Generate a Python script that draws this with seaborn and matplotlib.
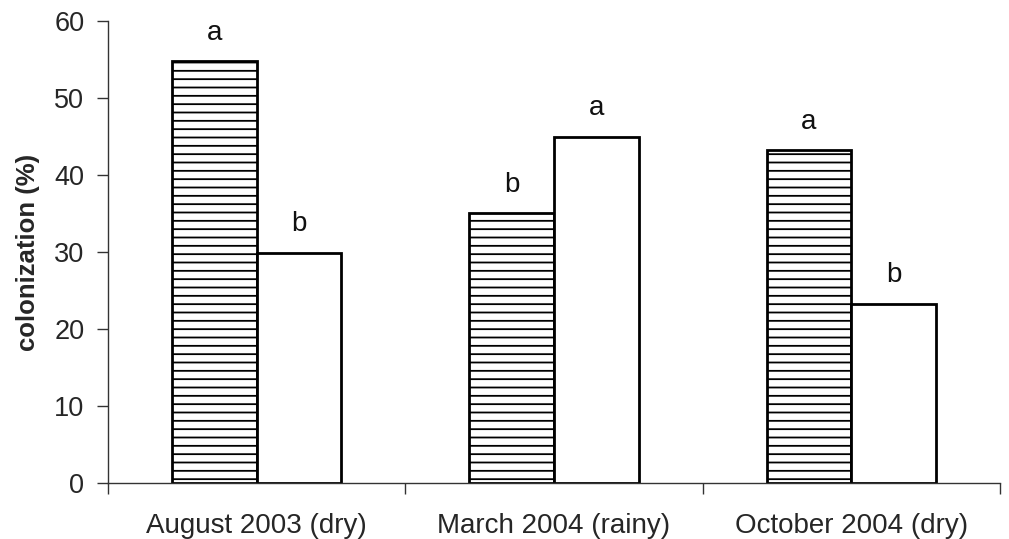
import matplotlib
matplotlib.use("Agg")
import matplotlib.pyplot as plt
import pandas as pd
import seaborn as sns

# data
periods = ['August 2003 (dry)', 'March 2004 (rainy)', 'October 2004 (dry)']
series = ['hatched', 'open']
hatched_vals = [54.8, 35.0, 43.2]
open_vals = [29.9, 45.0, 23.3]
hatched_letters = ['a', 'b', 'a']
open_letters = ['b', 'a', 'b']

df = pd.DataFrame({
    'period': periods * 2,
    'group': ['hatched'] * 3 + ['open'] * 3,
    'colonization': hatched_vals + open_vals,
})

sns.set_style('ticks')
plt.rcParams['font.family'] = ['Liberation Sans', 'DejaVu Sans']
plt.rcParams['hatch.linewidth'] = 1.3

fig = plt.figure(figsize=(10.09, 5.39), dpi=100)
ax = fig.add_axes([0.107, 0.104, 0.884, 0.857])

sns.barplot(data=df, x='period', y='colonization', hue='group', order=periods,
            hue_order=series, palette=['white', 'white'], edgecolor='black',
            linewidth=2, width=0.57, ax=ax, legend=False)

for bar in ax.containers[0]:
    bar.set_hatch('--')

for cont, letters in zip(ax.containers, [hatched_letters, open_letters]):
    for bar, lab in zip(cont, letters):
        ax.text(bar.get_x() + bar.get_width() / 2, bar.get_height() + 2.0, lab,
                ha='center', va='bottom', fontsize=20, color='#111111')

ax.set_xlim(-0.5, 2.5)
ax.set_ylim(0, 60)
ax.set_yticks(range(0, 61, 10))
ax.set_xticks([0, 1, 2])
ax.set_xticklabels(periods)
ax.set_xticks([-0.5, 0.5, 1.5, 2.5], minor=True)
ax.tick_params(axis='x', which='major', length=0, pad=22, labelsize=20)
ax.tick_params(axis='x', which='minor', length=8, width=1, direction='out', color='#333333', bottom=True)
ax.tick_params(axis='y', length=8, width=1, direction='out', labelsize=19.5, pad=9, color='#333333', left=True)

sns.despine(ax=ax)
for s in ['left', 'bottom']:
    ax.spines[s].set_color('#333333')
    ax.spines[s].set_linewidth(1)

ax.set_xlabel('')
ax.set_ylabel('colonization (%)', fontsize=18.5, fontweight='bold', labelpad=10)

plt.savefig('out.png', dpi=100)
